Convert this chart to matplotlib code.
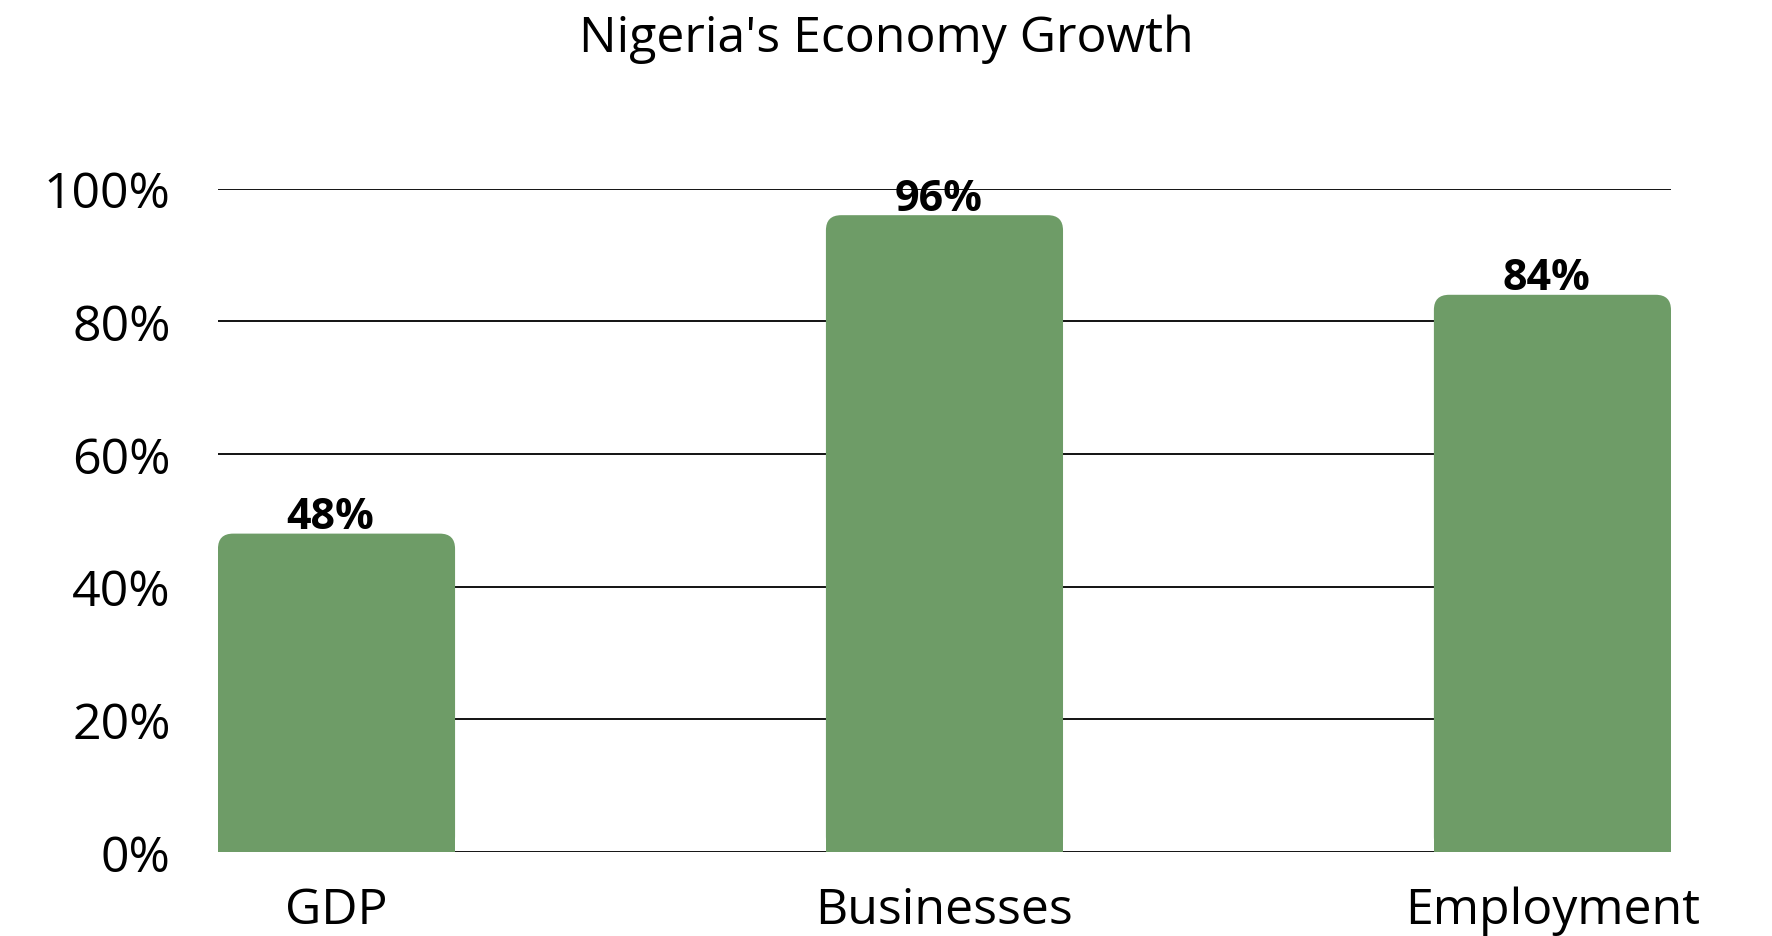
import matplotlib
matplotlib.use("Agg")
import matplotlib.pyplot as plt
from matplotlib.patches import FancyBboxPatch, Rectangle
from matplotlib.ticker import PercentFormatter

# data
categories = ["GDP", "Businesses", "Employment"]
values = [0.48, 0.96, 0.84]
bar_labels = ["48%", "96%", "84%"]
yticks = [0, 0.2, 0.4, 0.6, 0.8, 1.0]

bar_color = "#6E9C67"
plt.rcParams['font.family'] = ['Open Sans', 'DejaVu Sans']

fig = plt.figure(figsize=(17.72, 9.37), dpi=100)
ax = fig.add_axes([0.123, 0.0896, 0.820, 0.708])

bars = ax.bar(range(len(categories)), values, width=0.39, color=bar_color, zorder=2)
ax.set_xlim(-0.195, len(categories) - 1 + 0.195)
ax.set_ylim(0, 1.0)

# rounded tops: replace each bar with a rounded patch + square bottom part
aspect = (1.0 / 664) / (2.39 / 1453)
for b in bars:
    x, w, h = b.get_x(), b.get_width(), b.get_height()
    b.set_visible(False)
    r = 0.025
    ax.add_patch(FancyBboxPatch((x, 0), w, h,
                                boxstyle=f"round,pad=0,rounding_size={r}",
                                mutation_aspect=aspect,
                                fc=bar_color, ec="none", zorder=2))
    ax.add_patch(Rectangle((x, 0), w, h / 2, fc=bar_color, ec="none", zorder=2))

for b, lab in zip(bars, bar_labels):
    ax.text(b.get_x() + b.get_width() / 2 - 0.01, b.get_height() + 0.008, lab,
            ha="center", va="baseline", fontsize=31, fontweight="bold", zorder=3)

ax.set_yticks(yticks)
ax.yaxis.set_major_formatter(PercentFormatter(1.0, decimals=0))
ax.set_xticks(range(len(categories)))
ax.set_xticklabels(categories)
ax.tick_params(axis="y", length=0, pad=34, labelsize=36)
ax.tick_params(axis="x", length=0, pad=24, labelsize=36)
ax.grid(axis="y", color="black", linewidth=1.3, zorder=0)
ax.set_axisbelow(True)
for s in ax.spines.values():
    s.set_visible(False)

fig.suptitle("Nigeria's Economy Growth", y=0.985, fontsize=36, va="top")

fig.savefig("out.png", dpi=100, facecolor="white")
